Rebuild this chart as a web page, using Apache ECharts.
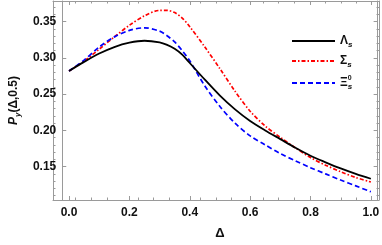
<!DOCTYPE html>
<html>
<head>
<meta charset="utf-8">
<script src="https://cdn.jsdelivr.net/npm/echarts@6/dist/echarts.min.js"></script>
<style>
html,body{margin:0;padding:0;background:#fff;}
#chart{width:382px;height:245px;}
</style>
</head>
<body>
<div id="chart"></div>
<script>
const deltaValues = [0, 0.05, 0.10, 0.15, 0.20, 0.25, 0.30, 0.325, 0.35, 0.375, 0.40, 0.45, 0.50, 0.55, 0.60, 0.65, 0.70, 0.75, 0.80, 0.85, 0.90, 0.95, 1.00];
const lambdaValues = [0.282, 0.2945, 0.306, 0.315, 0.321, 0.3237, 0.3215, 0.318, 0.3125, 0.3045, 0.293, 0.270, 0.248, 0.229, 0.213, 0.200, 0.188, 0.176, 0.165, 0.156, 0.1475, 0.140, 0.1333];
const sigmaValues = [0.282, 0.2955, 0.312, 0.329, 0.345, 0.358, 0.3655, 0.3655, 0.3625, 0.355, 0.343, 0.315, 0.285, 0.254, 0.2265, 0.206, 0.1905, 0.176, 0.1625, 0.152, 0.143, 0.135, 0.1288];
const xiValues = [0.282, 0.297, 0.315, 0.329, 0.338, 0.3415, 0.337, 0.3305, 0.322, 0.310, 0.296, 0.2613, 0.233, 0.210, 0.1925, 0.180, 0.168, 0.158, 0.1486, 0.140, 0.1315, 0.1235, 0.1153];
const seriesNames = ['Λs', 'Σs', 'Ξ0s'];
const xMajorTicks = [0, 0.2, 0.4, 0.6, 0.8, 1.0];
const xMinorTicks = [0.05, 0.1, 0.15, 0.25, 0.3, 0.35, 0.45, 0.5, 0.55, 0.65, 0.7, 0.75, 0.85, 0.9, 0.95];
const yMajorTicks = [0.15, 0.20, 0.25, 0.30, 0.35];
const yMinorTicks = [0.11, 0.12, 0.13, 0.14, 0.16, 0.17, 0.18, 0.19, 0.21, 0.22, 0.23, 0.24, 0.26, 0.27, 0.28, 0.29, 0.31, 0.32, 0.33, 0.34, 0.36, 0.37];

const FONT = 'Liberation Sans';
const FRAME = '#9a9a9a';
const X_MIN = -0.02244, X_MAX = 1.02244;
const Y_MIN = 0.104, Y_MAX = 0.3785;

function pairs(ys) { return deltaValues.map((x, i) => [x, ys[i]]); }

function xAx(grid, pos, ticks, len, labels) {
  const a = {
    type: 'value', gridIndex: grid, position: pos, min: X_MIN, max: X_MAX,
    axisLine: { show: true, onZero: false, lineStyle: { color: FRAME, width: 1 } },
    axisTick: { show: true, inside: true, length: len, customValues: ticks, lineStyle: { color: FRAME, width: 1 } },
    axisLabel: { show: false },
    splitLine: { show: false }
  };
  if (labels) {
    a.axisLabel = { show: true, customValues: ticks, formatter: v => v.toFixed(1), fontFamily: FONT, fontWeight: 'bold', fontSize: 12, color: '#111', margin: 7 };
    a.name = 'Δ';
    a.nameLocation = 'middle';
    a.nameGap = 27;
    a.nameTextStyle = { fontFamily: FONT, fontWeight: 'bold', fontSize: 13, color: '#111' };
  }
  return a;
}
function yAx(grid, pos, ticks, len, labels) {
  const a = {
    type: 'value', gridIndex: grid, position: pos, min: Y_MIN, max: Y_MAX,
    axisLine: { show: true, onZero: false, lineStyle: { color: FRAME, width: 1 } },
    axisTick: { show: true, inside: true, length: len, customValues: ticks, lineStyle: { color: FRAME, width: 1 } },
    axisLabel: { show: false },
    splitLine: { show: false }
  };
  if (labels) {
    a.axisLabel = { show: true, customValues: ticks, formatter: v => v.toFixed(2), fontFamily: FONT, fontWeight: 'bold', fontSize: 12, color: '#111', margin: 6 };
    a.name = '{i|P}{sub|y}{n|(Δ,0.5)}';
    a.nameLocation = 'middle';
    a.nameGap = 33;
    a.nameTextStyle = {
      rich: {
        i: { fontFamily: FONT, fontWeight: 'bold', fontStyle: 'italic', fontSize: 12, lineHeight: 16, color: '#111' },
        sub: { fontFamily: FONT, fontWeight: 'bold', fontStyle: 'italic', fontSize: 8, lineHeight: 8, verticalAlign: 'bottom', color: '#111' },
        n: { fontFamily: FONT, fontWeight: 'bold', fontSize: 12, lineHeight: 16, color: '#111' }
      }
    };
  }
  return a;
}

const gridRect = { left: 53, right: 3, top: 1, bottom: 45 };

const option = {
  animation: false,
  backgroundColor: '#fff',
  grid: [Object.assign({}, gridRect), Object.assign({}, gridRect)],
  xAxis: [
    xAx(0, 'bottom', xMajorTicks, 4, true),
    xAx(0, 'top', xMajorTicks, 4, false),
    xAx(1, 'bottom', xMinorTicks, 2.5, false),
    xAx(1, 'top', xMinorTicks, 2.5, false)
  ],
  yAxis: [
    yAx(0, 'left', yMajorTicks, 4, true),
    yAx(0, 'right', yMajorTicks, 4, false),
    yAx(1, 'left', yMinorTicks, 2.5, false),
    yAx(1, 'right', yMinorTicks, 2.5, false)
  ],
  legend: {
    orient: 'vertical', left: 286, top: 30, itemWidth: 43, itemHeight: 14, itemGap: 6,
    itemStyle: { opacity: 0, color: 'transparent', borderWidth: 0 },
    data: seriesNames,
    formatter: function (name) {
      if (name === 'Λs') return '{m|Λ}{sub|s}';
      if (name === 'Σs') return '{m|Σ}{sub|s}';
      return '{m|Ξ}{sup|0}{sub|s}';
    },
    textStyle: {
      rich: {
        m: { fontFamily: FONT, fontWeight: 'bold', fontSize: 12, lineHeight: 16, color: '#111' },
        sub: { fontFamily: FONT, fontWeight: 'bold', fontStyle: 'italic', fontSize: 8, lineHeight: 8, verticalAlign: 'bottom', color: '#111' },
        sup: { fontFamily: FONT, fontWeight: 'bold', fontSize: 7, lineHeight: 7, verticalAlign: 'top', width: 0, color: '#111' }
      }
    }
  },
  series: [
    { name: seriesNames[0], type: 'line', xAxisIndex: 0, yAxisIndex: 0, smooth: 0.3, showSymbol: false, symbol: 'none',
      data: pairs(lambdaValues), lineStyle: { color: '#000', width: 1.8, type: 'solid' }, itemStyle: { color: '#000' }, z: 3 },
    { name: seriesNames[1], type: 'line', xAxisIndex: 0, yAxisIndex: 0, smooth: 0.3, showSymbol: false, symbol: 'none',
      data: pairs(sigmaValues), lineStyle: { color: '#ff0000', width: 1.7, type: [4, 2, 1.5, 2] }, itemStyle: { color: '#ff0000' }, z: 2 },
    { name: seriesNames[2], type: 'line', xAxisIndex: 0, yAxisIndex: 0, smooth: 0.3, showSymbol: false, symbol: 'none',
      data: pairs(xiValues), lineStyle: { color: '#0000ff', width: 1.7, type: [5, 3] }, itemStyle: { color: '#0000ff' }, z: 2 }
  ]
};

const chart = echarts.init(document.getElementById('chart'), null, { renderer: 'canvas' });
chart.setOption(option);
</script>
</body>
</html>
